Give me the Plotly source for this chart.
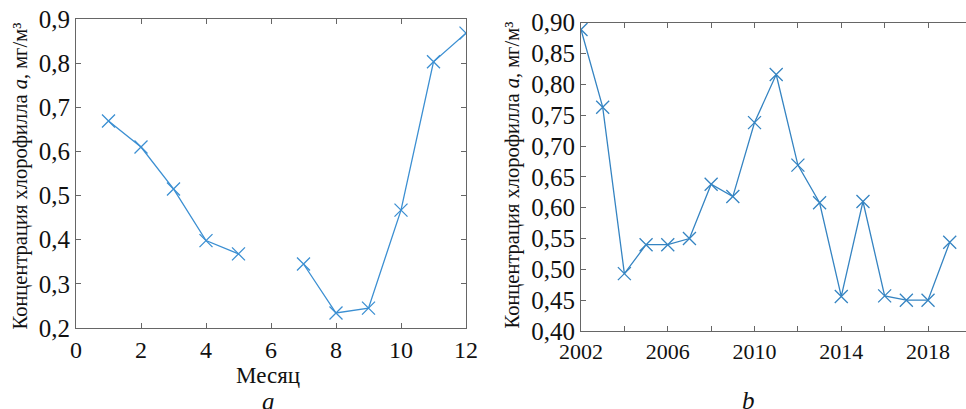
import plotly.graph_objects as go

# Panel a: monthly
months = [1, 2, 3, 4, 5, 6, 7, 8, 9, 10, 11, 12]
chl_month = [0.669, 0.610, 0.515, 0.398, 0.368, None, 0.345, 0.234, 0.245, 0.467, 0.803, 0.868]
xa_tickvals = [0, 2, 4, 6, 8, 10, 12]
xa_ticktext = ["0", "2", "4", "6", "8", "10", "12"]
ya_tickvals = [0.2, 0.3, 0.4, 0.5, 0.6, 0.7, 0.8, 0.9]
ya_ticktext = ["0,2", "0,3", "0,4", "0,5", "0,6", "0,7", "0,8", "0,9"]

# Panel b: yearly
years = list(range(2002, 2020))
chl_year = [0.889, 0.763, 0.493, 0.540, 0.540, 0.550, 0.638, 0.618, 0.738, 0.816,
            0.669, 0.608, 0.456, 0.610, 0.457, 0.450, 0.450, 0.544]
xb_tickvals = [2002, 2004, 2006, 2008, 2010, 2012, 2014, 2016, 2018]
xb_ticktext = ["2002", "", "2006", "", "2010", "", "2014", "", "2018"]
yb_tickvals = [0.40, 0.45, 0.50, 0.55, 0.60, 0.65, 0.70, 0.75, 0.80, 0.85, 0.90]
yb_ticktext = ["0,40", "0,45", "0,50", "0,55", "0,60", "0,65", "0,70", "0,75", "0,80", "0,85", "0,90"]

ytitle = "Концентрация хлорофилла <i>a</i>, мг/м³"
FONT = "Times New Roman, serif"
W, H = 966, 409

fig = go.Figure()
fig.add_trace(go.Scatter(x=months, y=chl_month, mode="lines+markers",
                         line=dict(color="#3b8fd2", width=1.3),
                         marker=dict(symbol="x-thin", size=13, line=dict(color="#3b8fd2", width=1.3)),
                         connectgaps=False, xaxis="x", yaxis="y", showlegend=False))
fig.add_trace(go.Scatter(x=years, y=chl_year, mode="lines+markers",
                         line=dict(color="#3584c2", width=1.3),
                         marker=dict(symbol="x-thin", size=13, line=dict(color="#3584c2", width=1.3)),
                         xaxis="x2", yaxis="y2", showlegend=False))

axis_common = dict(showgrid=False, zeroline=False, showline=True, linecolor="#666",
                   linewidth=1.2, ticks="inside", ticklen=5, tickcolor="#666", tickwidth=1,
                   automargin=False)

fig.update_layout(
    template="none",
    width=W, height=H, margin=dict(l=0, r=0, t=0, b=0, autoexpand=False),
    paper_bgcolor="white", plot_bgcolor="white",
    font=dict(family=FONT, color="#111"),
    xaxis=dict(domain=[76 / W, 466 / W], range=[0, 12], tickmode="array",
               tickvals=xa_tickvals, ticktext=xa_ticktext, mirror="ticks",
               tickfont=dict(family=FONT, size=24, color="#111"),
               anchor="y", **axis_common),
    yaxis=dict(domain=[1 - 328 / H, 1 - 19 / H], range=[0.2, 0.9], tickmode="array",
               tickvals=ya_tickvals, ticktext=ya_ticktext, mirror="ticks",
               tickfont=dict(family=FONT, size=25, color="#111"),
               anchor="x", **axis_common),
    xaxis2=dict(domain=[581 / W, 1.0], range=[2002, 2019.75], tickmode="array",
                tickvals=xb_tickvals, ticktext=xb_ticktext, mirror="ticks",
                tickfont=dict(family=FONT, size=22, color="#111"),
                anchor="y2", **axis_common),
    yaxis2=dict(domain=[1 - 331 / H, 1 - 22.7 / H], range=[0.40, 0.90], tickmode="array",
                tickvals=yb_tickvals, ticktext=yb_ticktext,
                tickfont=dict(family=FONT, size=25, color="#111"),
                anchor="x2", **axis_common),
)

ann = [
    dict(text=ytitle, x=19.5 / W, y=1 - 176 / H, textangle=-90, font=dict(size=20.5)),
    dict(text=ytitle, x=512.5 / W, y=1 - 175 / H, textangle=-90, font=dict(size=20.5)),
    dict(text="Месяц", x=268 / W, y=1 - 375 / H, font=dict(size=23)),
    dict(text="<i>a</i>", x=268 / W, y=1 - 401 / H, font=dict(size=25)),
    dict(text="<i>b</i>", x=748 / W, y=1 - 400 / H, font=dict(size=25)),
]
for a in ann:
    a.update(xref="paper", yref="paper", showarrow=False, xanchor="center", yanchor="middle")
    a["font"] = dict(family=FONT, color="#111", size=a["font"]["size"])
fig.update_layout(annotations=ann)

fig.write_html("out.html")
